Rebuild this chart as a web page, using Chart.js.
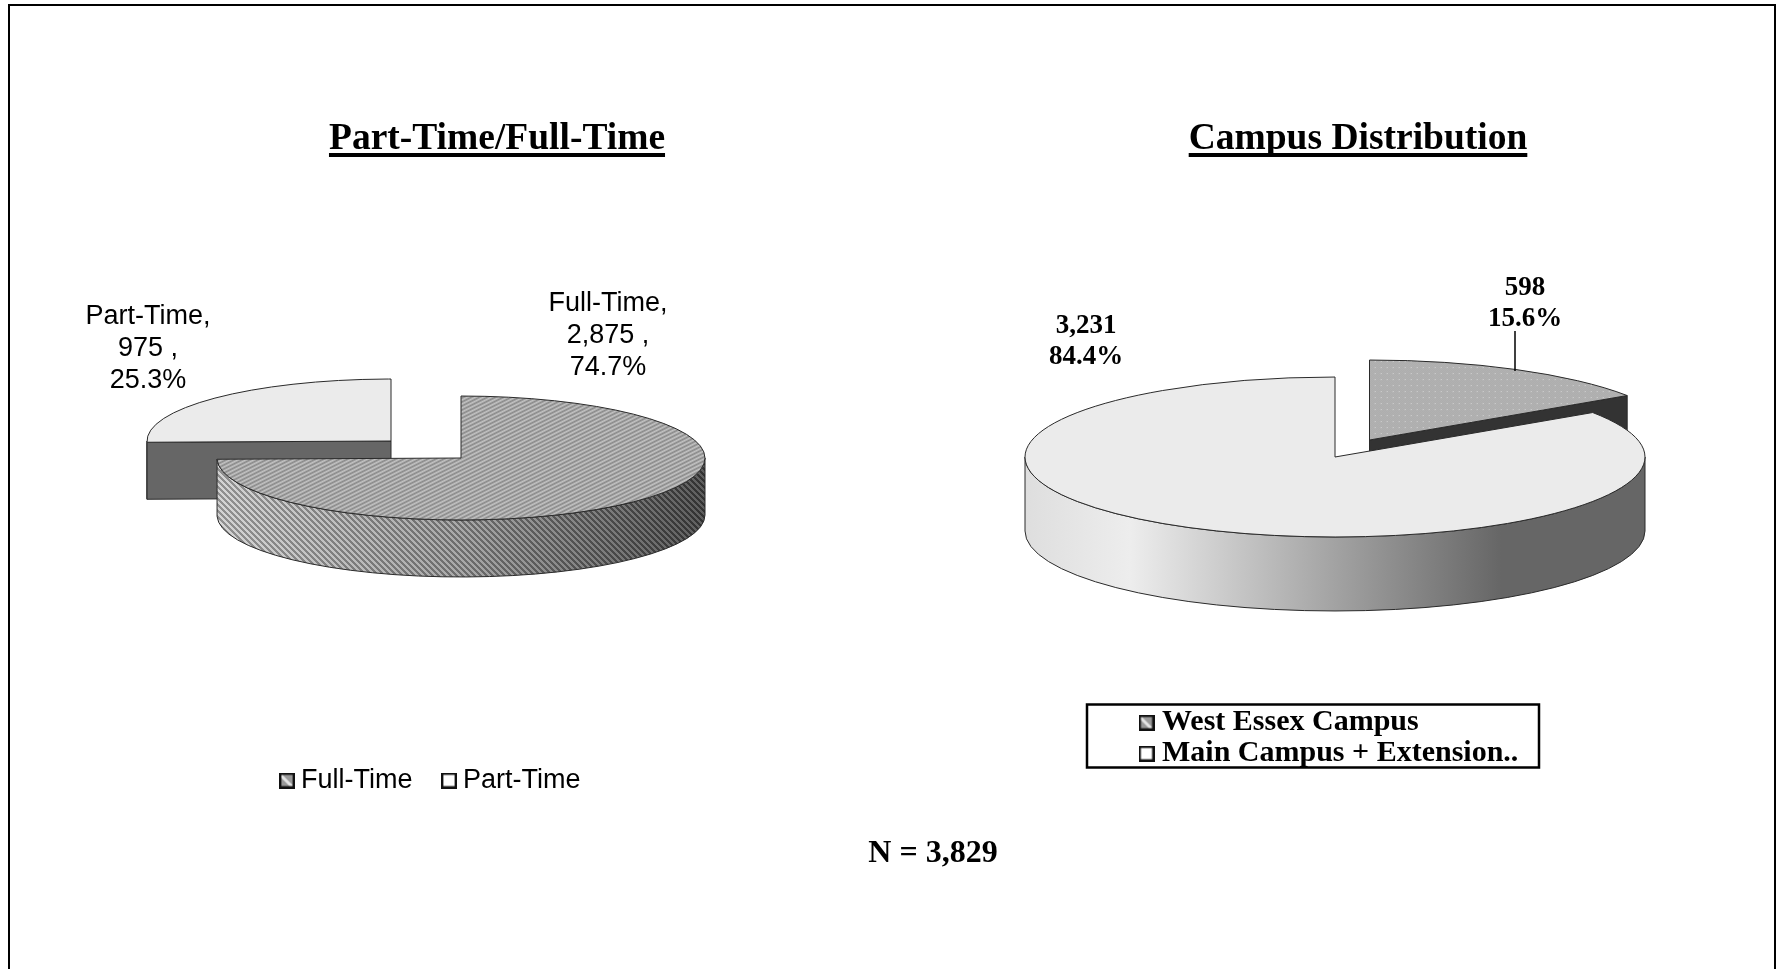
<!DOCTYPE html>
<html>
<head>
<meta charset="utf-8">
<title>Part-Time/Full-Time and Campus Distribution</title>
<script src="https://cdn.jsdelivr.net/npm/chart.js@4"></script>
<style>
  html, body { margin: 0; padding: 0; background: #fff; overflow: hidden; }
  #frame { position: absolute; left: 8px; top: 4px; width: 1764px; height: 1000px; border: 2.5px solid #000; box-sizing: content-box; }
  canvas { position: absolute; left: 0; top: 0; }
</style>
</head>
<body>
<div id="frame"></div>
<canvas id="left" width="1779" height="969"></canvas>
<canvas id="right" width="1779" height="969"></canvas>
<script>
// ---- data ----
const statusCategories = ['Full-Time', 'Part-Time'];
const statusValues = [2875, 975];
const statusPercents = ['74.7%', '25.3%'];
const campusCategories = ['West Essex Campus', 'Main Campus + Extension..'];
const campusValues = [598, 3231];
const campusPercents = ['15.6%', '84.4%'];
const totalN = '3,829';

// ---- fonts ----
const SANS = '"Liberation Sans", Arial, sans-serif';
const SERIF = '"Liberation Serif", "Times New Roman", serif';

// ---- textures ----
function tile(w, h, paint) {
  const c = document.createElement('canvas');
  c.width = w; c.height = h;
  const g = c.getContext('2d');
  for (let y = 0; y < h; y++) for (let x = 0; x < w; x++) {
    g.fillStyle = paint(x, y);
    g.fillRect(x, y, 1, 1);
  }
  return c;
}
const ctx0 = document.createElement('canvas').getContext('2d');
function pattern(canvas, squash) {
  const p = ctx0.createPattern(canvas, 'repeat');
  if (squash) p.setTransform(new DOMMatrix().scale(1, 1 / squash));
  return p;
}
const hatchTop = tile(8, 4, (x, y) => ((x + 2 * y) % 8 < 4) ? '#c2c2c2' : '#8a8a8a');
const dotTop = tile(6, 6, (x, y) => (x % 6 === 1 && y % 6 === 1) ? '#dedede' : ((x + y) % 2 ? '#a9a9a9' : '#b7b7b7'));
const wallHatch = tile(6, 6, (x, y) => ((x - y + 60) % 6 < 3) ? 'rgba(0,0,0,0.3)' : 'rgba(255,255,255,0.12)');

function swatch(kind) {
  const c = document.createElement('canvas');
  c.width = 16; c.height = 16;
  const g = c.getContext('2d');
  g.fillStyle = '#fff'; g.fillRect(0, 0, 16, 16);
  if (kind === 'hatch') {
    g.fillStyle = '#999'; g.fillRect(2, 2, 12, 12);
    g.strokeStyle = '#e4e4e4'; g.lineWidth = 3;
    g.beginPath(); g.moveTo(2, 3); g.lineTo(13, 14); g.stroke();
  }
  g.strokeStyle = '#111'; g.lineWidth = 2.4;
  g.strokeRect(1.2, 1.2, 13.6, 13.6);
  return c;
}

// ---- 3D pie drawing, on top of the library's arc elements ----
function sliceWall(ctx, x, y, rx, ry, depth, a0, a1, fill) {
  const s = Math.max(a0, 0), e = Math.min(a1, Math.PI);
  if (e > s) {
    for (const f of [].concat(fill)) {
      ctx.beginPath();
      ctx.ellipse(x, y, rx, ry, 0, s, e);
      ctx.ellipse(x, y + depth, rx, ry, 0, e, s, true);
      ctx.closePath();
      ctx.fillStyle = f;
      ctx.fill();
    }
    ctx.stroke();
  }
}
function sliceFace(ctx, x, y, rx, ry, depth, a, fill) {
  const px = x + rx * Math.cos(a), py = y + ry * Math.sin(a);
  ctx.beginPath();
  ctx.moveTo(x, y); ctx.lineTo(px, py); ctx.lineTo(px, py + depth); ctx.lineTo(x, y + depth);
  ctx.closePath();
  ctx.fillStyle = fill;
  ctx.fill();
  ctx.stroke();
}

const SQ_L = 0.254, SQ_R = 0.258;

const ftWall = (ctx => {
  const g = ctx.createLinearGradient(219, 0, 705, 0);
  g.addColorStop(0, '#cecece'); g.addColorStop(0.5, '#9c9c9c'); g.addColorStop(1, '#484848');
  return [g, pattern(wallHatch)];
})(ctx0);
const mainWall = (ctx => {
  const g = ctx.createLinearGradient(1025, 0, 1644, 0);
  g.addColorStop(0, '#dedede'); g.addColorStop(0.17, '#ededed'); g.addColorStop(0.77, '#666'); g.addColorStop(1, '#666');
  return g;
})(ctx0);

const scene = {
  left: {
    order: [1, 0],
    centers: [[461, 458], [391, 441]],
    squash: SQ_L, depth: 57,
    wallFill: [ftWall, '#666'],
    faceFill: ['#666', '#666'],
    titleX: 497, underlineY: 153,
    legendX: 250.5, legendY: 731,
    labelFont: `27px ${SANS}`, labelLeading: 32,
    labelAt: [[608, 304], [148, 317]],
    labelLines: (i, v) => [statusCategories[i] + ',', v.toLocaleString('en-US') + ' ,', statusPercents[i]],
    extra(ctx) {
      ctx.font = `bold 32px ${SERIF}`;
      ctx.fillText('N = ' + totalN, 933, 854);
    }
  },
  right: {
    order: [0, 1],
    centers: [[1369.5, 440], [1335, 457]],
    squash: SQ_R, depth: 74,
    wallFill: ['#333', mainWall],
    faceFill: ['#333', '#666'],
    titleX: 1358, underlineY: 153,
    legendX: 1145, legendY: 706.6,
    labelFont: `bold 27px ${SERIF}`, labelLeading: 31,
    labelAt: [[1525, 288], [1086, 326]],
    labelLines: (i, v) => [v.toLocaleString('en-US'), campusPercents[i]],
    extra(ctx) {
      ctx.strokeStyle = '#000';
      ctx.lineWidth = 1.5;
      ctx.beginPath(); ctx.moveTo(1515, 331); ctx.lineTo(1515, 371); ctx.stroke();
      ctx.lineWidth = 2.5;
      ctx.strokeRect(1087, 704.5, 452, 63);
    }
  }
};

const pie3d = {
  id: 'pie3d',
  afterLayout(chart) {
    const o = scene[chart.canvas.id];
    const t = chart.titleBlock;
    t.left = o.titleX - 400; t.right = o.titleX + 400;
    const lg = chart.legend;
    const w = lg.width, h = lg.height;
    lg.left = o.legendX; lg.top = o.legendY;
    lg.right = lg.left + Math.max(w, 600); lg.bottom = lg.top + Math.max(h, 200);
    // the swatches sit slightly left of the legend's own box: draw without its clip
    lg.draw = function () { this._draw(); };
  },
  beforeDatasetsDraw(chart) {
    const o = scene[chart.canvas.id];
    const ctx = chart.ctx;
    const arcs = chart.getDatasetMeta(0).data;
    for (const i of o.order) {
      const el = arcs[i];
      const [cx, cy] = o.centers[i];
      const rx = el.outerRadius, ry = rx * o.squash;
      ctx.save();
      ctx.strokeStyle = '#2a2a2a';
      ctx.lineWidth = 1;
      const a0 = el.startAngle, a1 = el.endAngle;
      sliceWall(ctx, cx, cy, rx, ry, o.depth, a0, a1, o.wallFill[i]);
      if (Math.cos(a0) < -0.001) sliceFace(ctx, cx, cy, rx, ry, o.depth, a0, o.faceFill[i]);
      if (Math.cos(a1) > 0.001) sliceFace(ctx, cx, cy, rx, ry, o.depth, a1, o.faceFill[i]);
      // top surface: the library's own arc, squashed into an ellipse
      ctx.save();
      ctx.translate(cx, cy);
      ctx.scale(1, o.squash);
      ctx.translate(-el.x, -el.y);
      el.draw(ctx);
      ctx.restore();
      ctx.beginPath();
      ctx.moveTo(cx, cy);
      ctx.ellipse(cx, cy, rx, ry, 0, a0, a1);
      ctx.closePath();
      ctx.stroke();
      ctx.restore();
    }
    return false;
  },
  afterDraw(chart) {
    const o = scene[chart.canvas.id];
    const ctx = chart.ctx;
    ctx.save();
    ctx.fillStyle = '#000';
    ctx.textAlign = 'center';
    ctx.textBaseline = 'middle';
    ctx.font = o.labelFont;
    chart.data.datasets[0].data.forEach((v, i) => {
      const [x, y] = o.labelAt[i];
      o.labelLines(i, v).forEach((line, k) => ctx.fillText(line, x, y + k * o.labelLeading));
    });
    // underlined chart title
    const t = chart.options.plugins.title;
    ctx.font = `bold ${t.font.size}px ${t.font.family}`;
    const tw = ctx.measureText(t.text).width;
    ctx.fillRect(o.titleX - tw / 2, o.underlineY, tw, 4);
    o.extra(ctx);
    ctx.restore();
  }
};
Chart.register(pie3d);

function legendItems(swatches) {
  return chart => chart.data.labels.map((text, i) => ({
    text, index: i, pointStyle: swatches[i], hidden: false, fontColor: '#000'
  }));
}

function baseOptions(titleText, titleTop, legendPos, legendOpts) {
  return {
    responsive: false,
    animation: false,
    events: [],
    layout: { padding: 0 },
    plugins: {
      tooltip: { enabled: false },
      title: {
        display: true, text: titleText, color: '#000',
        font: { family: SERIF, size: 37.5, weight: 'bold' },
        padding: { top: titleTop, bottom: 0 }
      },
      legend: { display: true, position: legendPos, align: 'start', labels: legendOpts }
    }
  };
}

new Chart(document.getElementById('left'), {
  type: 'pie',
  data: {
    labels: statusCategories,
    datasets: [{
      data: statusValues, radius: 244, borderWidth: 0,
      backgroundColor: [pattern(hatchTop, SQ_L), '#ebebeb']
    }]
  },
  options: baseOptions('Part-Time/Full-Time', 117, 'bottom', {
    usePointStyle: true, pointStyleWidth: 1, padding: 36, color: '#000',
    font: { family: SANS, size: 27 },
    generateLabels: legendItems([swatch('hatch'), swatch('plain')])
  })
});

new Chart(document.getElementById('right'), {
  type: 'pie',
  data: {
    labels: campusCategories,
    datasets: [{
      data: campusValues, radius: 310, borderWidth: 0,
      backgroundColor: [pattern(dotTop, SQ_R), '#ebebeb']
    }]
  },
  options: baseOptions('Campus Distribution', 117, 'right', {
    usePointStyle: true, pointStyleWidth: 1, padding: 1, color: '#000',
    font: { family: SERIF, size: 30, weight: 'bold' },
    generateLabels: legendItems([swatch('hatch'), swatch('plain')])
  })
});
</script>
</body>
</html>
